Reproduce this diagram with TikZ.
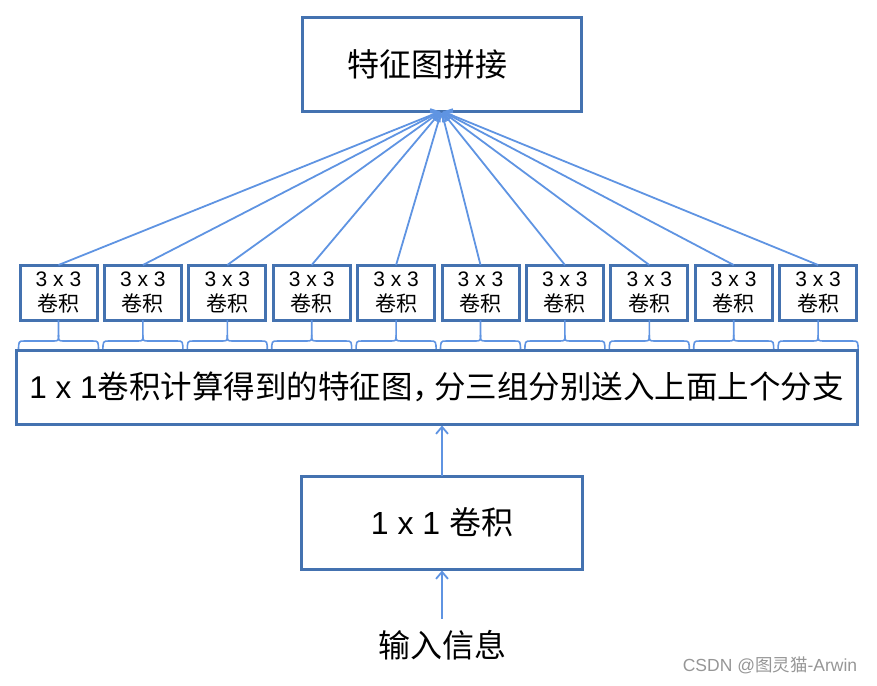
\documentclass[tikz,border=0pt]{standalone}
\usepackage{fontspec}
\setmainfont{Liberation Sans}
\newfontfamily\cjk{Noto Sans CJK SC}
\usetikzlibrary{arrows.meta,calc}
\definecolor{boxblue}{RGB}{68,114,176}
\definecolor{arrblue}{RGB}{95,148,226}
\definecolor{wmgray}{RGB}{150,150,150}
\begin{document}
\begin{tikzpicture}[x=1pt,y=-1pt,
  bx/.style={draw=boxblue,line width=3pt,fill=white,inner sep=0pt,outer sep=0pt},
  arr/.style={draw=arrblue,line width=1.8pt,-{Straight Barb[length=7pt,width=12pt]}},
  brc/.style={draw=arrblue,line width=1.6pt},
  bigtxt/.style={font=\fontsize{32}{38}\selectfont},
  midtxt/.style={font=\fontsize{31.5}{38}\selectfont},
  smalltxt/.style={font=\fontsize{21}{25}\selectfont,align=center}]
\useasboundingbox (0,0) rectangle (877,685);
\node[bx,bigtxt,minimum width=279pt,minimum height=93pt] (top) at (441.5,64.5) {{\cjk 特征图拼接}\hspace*{28pt}};
\foreach \i in {0,...,9} {
  \node[bx,smalltxt,minimum width=77pt,minimum height=55pt] (s\i) at ({58.5+84.4*\i},292.5) {3 x 3\\{\cjk 卷积}};
}
\foreach \i in {0,...,9} {
  \path (s\i.south) coordinate (m);
  \draw[brc] ($(m)+(-40,32)$) .. controls ($(m)+(-40,21)$) .. ($(m)+(-34,21)$) -- ($(m)+(-6,21)$) .. controls ($(m)+(0,21)$) .. ($(m)+(0,15)$) -- (m);
  \draw[brc] ($(m)+(40,32)$) .. controls ($(m)+(40,21)$) .. ($(m)+(34,21)$) -- ($(m)+(6,21)$) .. controls ($(m)+(0,21)$) .. ($(m)+(0,15)$);
}
\node[bx,midtxt,minimum width=841pt,minimum height=74pt] (mid) at (436.5,387) {1 x 1{\cjk 卷积计算得到的特征图，\kern-10pt 分三组分别送入上面上个分支}};
\node[bx,bigtxt,minimum width=281pt,minimum height=93pt] (conv) at (442,522.5) {1 x 1 {\cjk 卷积}};
\node[bigtxt,inner xsep=2pt,inner ysep=11pt] (inp) at (442,645) {\cjk 输入信息};
\node[text=wmgray,font=\fontsize{17.5}{20}\selectfont,inner sep=0pt] (wm) at (770,665) {CSDN @{\cjk 图灵猫}-Arwin};
\foreach \i in {0,...,9} {
  \draw[arr,shorten >=1.5pt] (s\i.north) -- (top.south);
}
\draw[arr,shorten >=1.5pt] (conv.north) -- (conv.north |- mid.south);
\draw[arr,shorten >=1.5pt] (inp.north) -- (inp.north |- conv.south);
\end{tikzpicture}
\end{document}
